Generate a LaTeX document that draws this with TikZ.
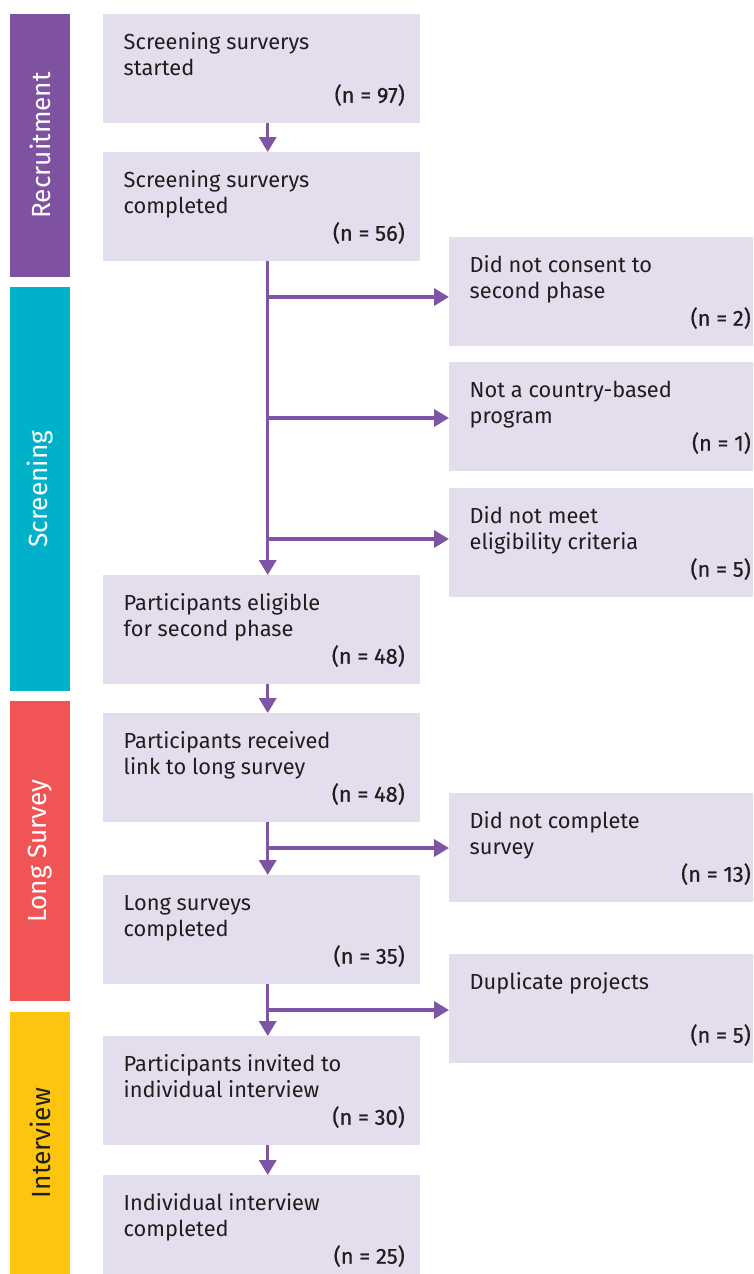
\documentclass[tikz,border=0pt]{standalone}
\usepackage{fontspec}
\setmainfont{Fira Sans}
\newfontfamily\numfont[FakeBold=0.6]{Fira Sans}
\usetikzlibrary{arrows.meta}
\definecolor{boxfill}{HTML}{E4DDED}
\definecolor{flowc}{HTML}{7E55A5}
\definecolor{recruitc}{HTML}{7F51A1}
\definecolor{screenc}{HTML}{00B2C9}
\definecolor{longc}{HTML}{F05455}
\definecolor{interc}{HTML}{FDC510}
\definecolor{inkc}{HTML}{1E1E1E}
\tikzset{
  box/.style={fill=boxfill, minimum width=317pt, minimum height=109pt, anchor=north west, inner sep=0pt, outer sep=0pt},
  txt/.style={anchor=base west, inner sep=0pt, text=inkc, font=\fontsize{21.8pt}{26.5pt}\selectfont},
  num/.style={anchor=base east, inner sep=0pt, text=inkc, font=\numfont\fontsize{21.8pt}{26.5pt}\selectfont},
  phase/.style={rotate=90, minimum height=60pt, inner sep=0pt, outer sep=0pt, text=white, font=\fontsize{26.3pt}{30pt}\selectfont},
  flow/.style={draw=flowc, line width=3.5pt, -{Triangle[length=15pt,width=17pt]}},
}
\newcommand{\flowbox}[5]{%
  \node[box] (#1) at (#2,#3) {};
  \node[txt] (#1t) at ([xshift=20.5pt,yshift=-35.3pt]#1.north west) {\begin{tabular}[t]{@{}l@{}}#4\end{tabular}};
  \node[num] (#1n) at ([xshift=-15pt,yshift=-88.7pt]#1.north east) {#5};
}
\begin{document}
\begin{tikzpicture}[x=1pt,y=-1pt]
\useasboundingbox (0,0) rectangle (753,1274);
\clip (0,0) rectangle (753,1274);
% phase bars
\node[phase, fill=recruitc, minimum width=263pt] (p1) at (40,145.5) {Recruitment};
\node[phase, fill=screenc, minimum width=404pt] (p2) at (40,489) {Screening};
\node[phase, fill=longc, minimum width=300pt] (p3) at (40,851) {Long Survey};
\node[phase, fill=interc, minimum width=262pt, text=inkc] (p4) at (40,1143) {Interview};
% main column
\flowbox{b1}{103}{14}{Screening surverys\\started}{(n = 97)}
\flowbox{b2}{103}{152}{Screening surverys\\completed}{(n = 56)}
\flowbox{b3}{103}{575}{Participants eligible\\for second phase}{(n = 48)}
\flowbox{b4}{103}{713}{Participants received\\link to long survey}{(n = 48)}
\flowbox{b5}{103}{875}{Long surveys\\completed}{(n = 35)}
\flowbox{b6}{103}{1036}{Participants invited to\\individual interview}{(n = 30)}
\flowbox{b7}{103}{1175}{Individual interview\\completed}{(n = 25)}
% exclusions
\flowbox{r1}{449}{237}{Did not consent to\\second phase}{(n = 2)}
\flowbox{r2}{449}{362}{Not a country-based\\program}{(n = 1)}
\flowbox{r3}{449}{488}{Did not meet\\eligibility criteria}{(n = 5)}
\flowbox{r4}{449}{793}{Did not complete\\survey}{(n = 13)}
\flowbox{r5}{449}{954}{Duplicate projects}{(n = 5)}
% connectors
\coordinate (spine) at (267.7,0);
\coordinate (j1) at (267.7,297);
\coordinate (j2) at (267.7,418);
\coordinate (j3) at (267.7,539);
\coordinate (j4) at (267.7,848);
\coordinate (j5) at (267.7,1010);
\draw[flow] (b1.south -| spine) -- (b2.north -| spine);
\draw[flow] (b2.south -| spine) -- (b3.north -| spine);
\draw[flow] (j1) -- (j1 -| r1.west);
\draw[flow] (j2) -- (j2 -| r2.west);
\draw[flow] (j3) -- (j3 -| r3.west);
\draw[flow] (b3.south -| spine) -- (b4.north -| spine);
\draw[flow] (b4.south -| spine) -- (b5.north -| spine);
\draw[flow] (j4) -- (j4 -| r4.west);
\draw[flow] (b5.south -| spine) -- (b6.north -| spine);
\draw[flow] (j5) -- (j5 -| r5.west);
\draw[flow] (b6.south -| spine) -- (b7.north -| spine);
\end{tikzpicture}
\end{document}
